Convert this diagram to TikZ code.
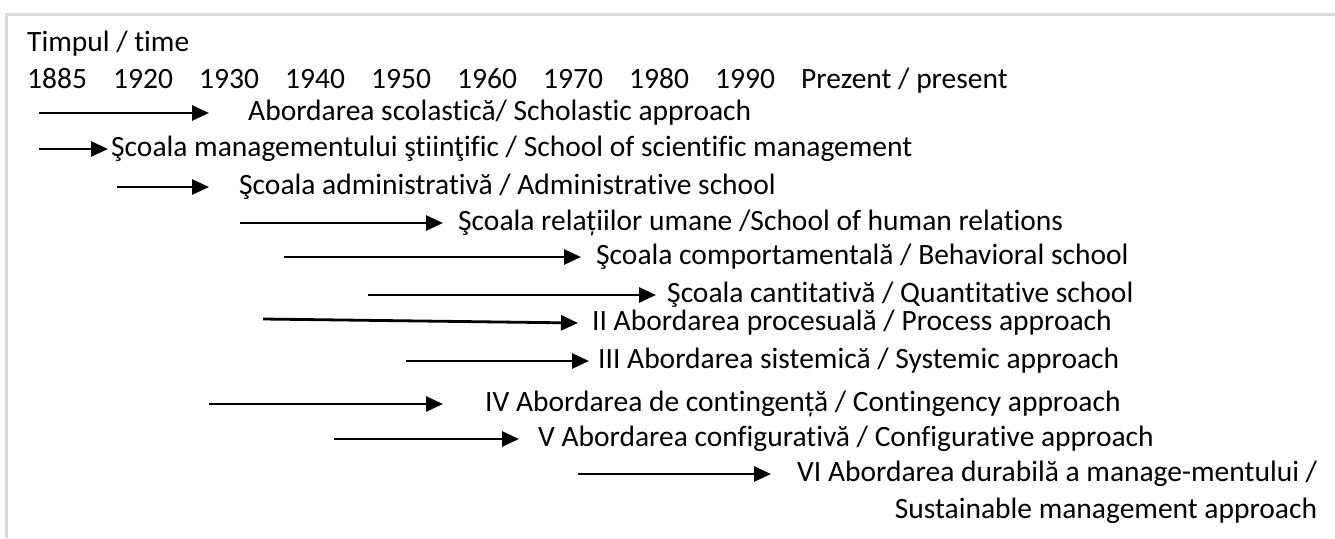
\documentclass[tikz,border=0pt]{standalone}
\usepackage{fontspec}
\setmainfont{Carlito}[Ligatures=NoCommon]
\usetikzlibrary{arrows.meta,calc}
\definecolor{framegray}{HTML}{D9D9D9}
\tikzset{
  lbl/.style={anchor=base west, inner sep=0pt, font=\fontsize{29.5}{35}\selectfont},
  arr/.style={line width=2.8pt, -{Triangle[length=17pt,width=15pt]}},
  framel/.style={draw=framegray, line width=2.2pt}
}
\begin{document}
\begin{tikzpicture}[x=1pt,y=-1pt]
\useasboundingbox (0,0) rectangle (1335,538);
\fill[white] (0,0) rectangle (1335,538);
% frame (top and left edges)
\coordinate (fr1) at (1335,14.5);
\coordinate (fr2) at (6.5,14.5);
\coordinate (fr3) at (6.5,538);
\draw[framel] (fr1) -- (fr2) -- (fr3);
% header
\node[lbl] (time) at (27,51) {Timpul / time};
\node[lbl] (y1885) at (27,88) {1885};
\node[lbl] (y1920) at (113,88) {1920};
\node[lbl] (y1930) at (199,88) {1930};
\node[lbl] (y1940) at (285,88) {1940};
\node[lbl] (y1950) at (371,88) {1950};
\node[lbl] (y1960) at (457,88) {1960};
\node[lbl] (y1970) at (543,88) {1970};
\node[lbl] (y1980) at (629,88) {1980};
\node[lbl] (y1990) at (715,88) {1990};
\node[lbl] (ypres) at (801,88) {Prezent / present};
% rows
\node[lbl] (t1) at (248,120.5) {Abordarea scolastică/ Scholastic approach};
\node[lbl] (t2) at (111,156.5) {Şcoala managementului ştiinţific / School of scientific management};
\node[lbl] (t3) at (239,194.5) {Şcoala administrativă / Administrative school};
\node[lbl] (t4) at (458,230.5) {Şcoala relațiilor umane /School of human relations};
\node[lbl] (t5) at (596,264.5) {Şcoala comportamentală / Behavioral school};
\node[lbl] (t6) at (667,302.5) {Şcoala cantitativă / Quantitative school};
\node[lbl] (t7) at (592,330) {II Abordarea procesuală / Process approach};
\node[lbl] (t8) at (598,368.5) {III Abordarea sistemică / Systemic approach};
\node[lbl] (t9) at (485,411.5) {IV Abordarea de contingență / Contingency approach};
\node[lbl] (t10) at (538,446.5) {V Abordarea configurativă / Configurative approach};
\node[lbl] (t11) at (797,481.5) {VI Abordarea durabilă a manage-mentului /};
\node[lbl, anchor=base east] (t12) at ($(t11.base east)+(0,37)$) {Sustainable management approach};
% arrows
\coordinate (s1) at (39,113);   \coordinate (e1) at (209,113);
\coordinate (s2) at (39,149);   \coordinate (e2) at (108,149);
\coordinate (s3) at (117,187);  \coordinate (e3) at (209,187);
\coordinate (s4) at (240,223);  \coordinate (e4) at (443,223);
\coordinate (s5) at (284,257);  \coordinate (e5) at (581,257);
\coordinate (s6) at (368,295);  \coordinate (e6) at (656,295);
\coordinate (s7) at (263,319);  \coordinate (e7) at (578,323);
\coordinate (s8) at (406,361);  \coordinate (e8) at (589,361);
\coordinate (s9) at (209,404);  \coordinate (e9) at (443,404);
\coordinate (s10) at (334,439); \coordinate (e10) at (519,439);
\coordinate (s11) at (578,474); \coordinate (e11) at (771,474);
\draw[arr] (s1) -- (e1);
\draw[arr] (s2) -- (e2);
\draw[arr] (s3) -- (e3);
\draw[arr] (s4) -- (e4);
\draw[arr] (s5) -- (e5);
\draw[arr] (s6) -- (e6);
\draw[arr] (s7) -- (e7);
\draw[arr] (s8) -- (e8);
\draw[arr] (s9) -- (e9);
\draw[arr] (s10) -- (e10);
\draw[arr] (s11) -- (e11);
\end{tikzpicture}
\end{document}
